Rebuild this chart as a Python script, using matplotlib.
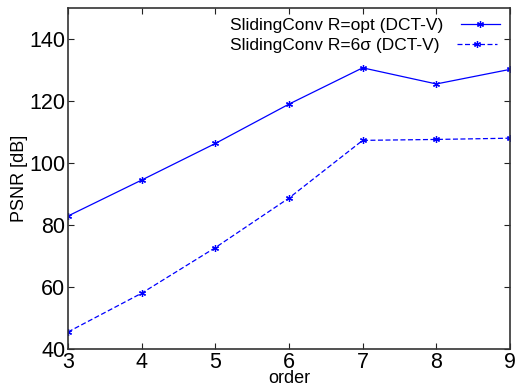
import matplotlib
matplotlib.use("Agg")
import matplotlib.pyplot as plt

order = [3, 4, 5, 6, 7, 8, 9]
psnr_opt = [82.9, 94.5, 106.3, 119.0, 130.7, 125.5, 130.2]
psnr_6sigma = [45.5, 58.0, 72.7, 88.7, 107.3, 107.6, 108.0]
labels = ["SlidingConv R=opt (DCT-V)", "SlidingConv R=6\u03c3 (DCT-V)"]

plt.rcParams['font.family'] = ['Liberation Sans', 'DejaVu Sans']
fig = plt.figure(figsize=(5.18, 3.87), dpi=100)
ax = fig.add_axes([68/518, 1-349/387, (510-68)/518, (349-8)/387])

mk = (6, 2, 0)
ax.plot(order, psnr_opt, '-', color='#0000ff', lw=0.9, marker=mk, ms=5, mew=0.9, label=labels[0])
ax.plot(order, psnr_6sigma, '--', color='#0000ff', lw=0.9, marker=mk, ms=5, mew=0.9, label=labels[1], dashes=(4, 2))

ax.set_xlim(3, 9)
ax.set_ylim(40, 150)
ax.set_xticks(order)
ax.set_yticks([40, 60, 80, 100, 120, 140])
ax.tick_params(direction='in', labelsize=15.5, length=4, width=0.8, top=True, right=True, pad=2,
               colors='#222222', labelcolor='black')
for s in ax.spines.values():
    s.set_linewidth(1.2)
    s.set_color('#333333')
ax.set_xlabel('order', fontsize=13, labelpad=-2)
ax.set_ylabel('PSNR [dB]', fontsize=13, labelpad=1)
leg = ax.legend(loc='upper right', frameon=False, markerfirst=False, fontsize=12.5,
                handlelength=2.3, borderaxespad=0.35, borderpad=0.2, labelspacing=0.3,
                handletextpad=1.0)
for col in leg._legend_handle_box.get_children():
    col.align = 'left'

fig.savefig('out.png', dpi=100)
